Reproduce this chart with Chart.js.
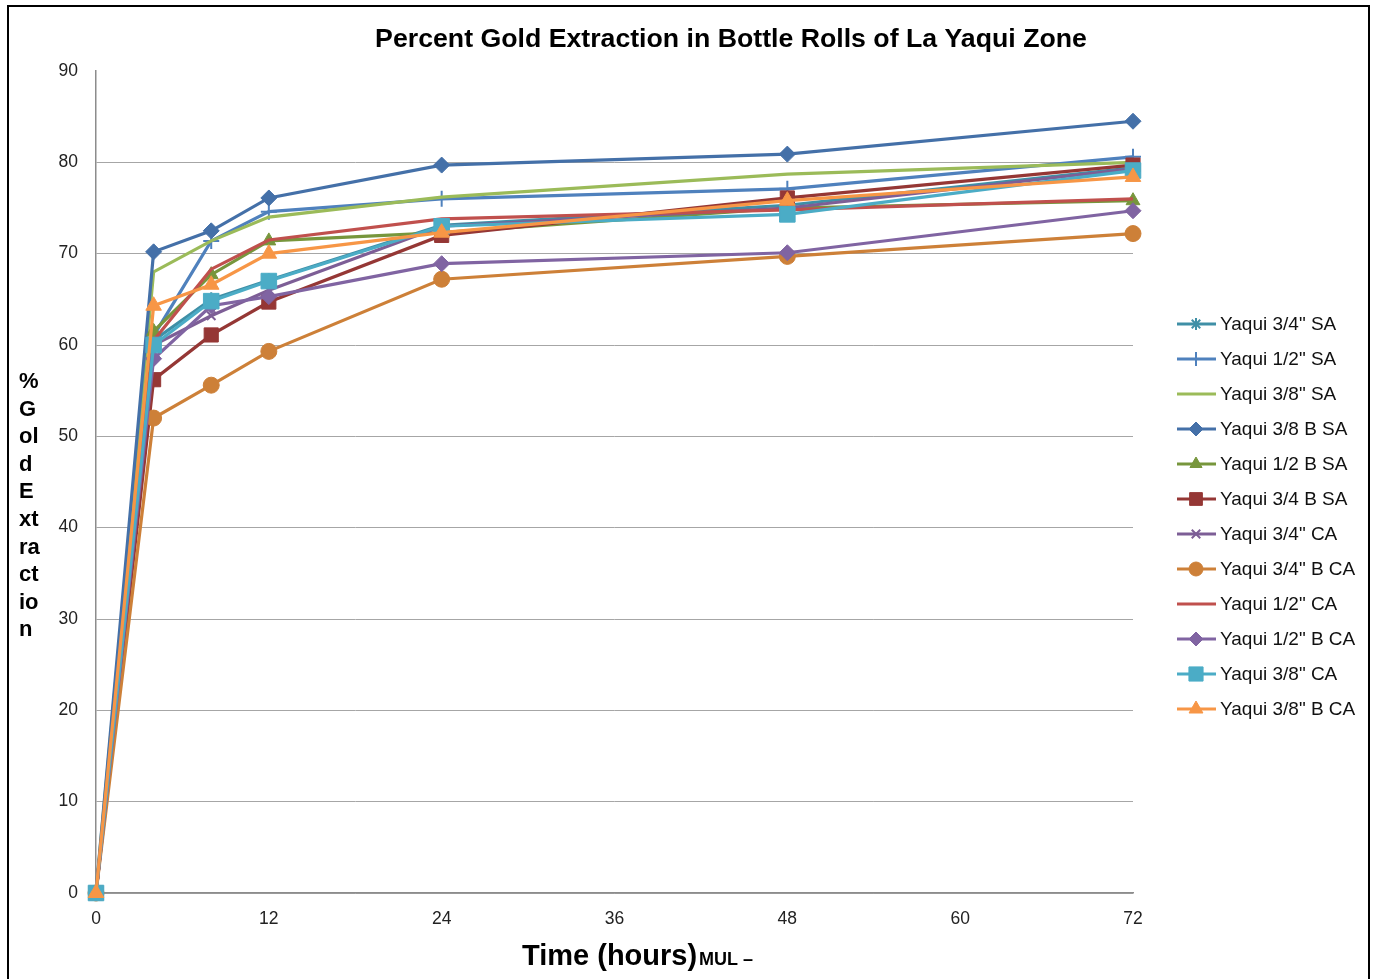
<!DOCTYPE html>
<html>
<head>
<meta charset="utf-8">
<script src="https://cdn.jsdelivr.net/npm/chart.js@4/dist/chart.umd.min.js"></script>
<style>
  html, body { margin: 0; padding: 0; background: #fff; }
  #wrap { position: relative; width: 1374px; height: 979px; }
  #frame { position: absolute; left: 7px; top: 5px; width: 1363px; height: 990px; border: 2px solid #000; box-sizing: border-box; pointer-events: none; }
  canvas { position: absolute; left: 0; top: 0; }
</style>
</head>
<body>
<div id="wrap">
  <canvas id="c" width="1374" height="979"></canvas>
  <div id="frame"></div>
</div>
<script>
const titleText = 'Percent Gold Extraction in Bottle Rolls of La Yaqui Zone';
const yTitleLines = ['%', 'G', 'ol', 'd', 'E', 'xt', 'ra', 'ct', 'io', 'n'];
const xTitleMain = 'Time (hours)';
const xTitleSuffix = 'MUL \u2013';

const hours = [0, 4, 8, 12, 24, 48, 72];
const xTicks = [0, 12, 24, 36, 48, 60, 72];
const yTicks = [0, 10, 20, 30, 40, 50, 60, 70, 80, 90];

const seriesNames = [
  'Yaqui 3/4" SA', 'Yaqui 1/2" SA', 'Yaqui 3/8" SA', 'Yaqui 3/8 B SA',
  'Yaqui 1/2 B SA', 'Yaqui 3/4 B SA', 'Yaqui 3/4" CA', 'Yaqui 3/4" B CA',
  'Yaqui 1/2" CA', 'Yaqui 1/2" B CA', 'Yaqui 3/8" CA', 'Yaqui 3/8" B CA'
];
const yaqui34SA   = [0, 60.5, 65.0, 67.1, 73.1, 75.3, 79.4];
const yaqui12SA   = [0, 61.0, 71.4, 74.6, 76.0, 77.1, 80.6];
const yaqui38SA   = [0, 68.0, 71.4, 74.0, 76.2, 78.7, 80.0];
const yaqui38BSA  = [0, 70.2, 72.5, 76.1, 79.7, 80.9, 84.5];
const yaqui12BSA  = [0, 61.5, 67.7, 71.4, 72.3, 75.0, 75.8];
const yaqui34BSA  = [0, 56.2, 61.1, 64.7, 72.0, 76.1, 79.7];
const yaqui34CA   = [0, 60.0, 63.2, 66.0, 73.0, 75.0, 79.3];
const yaqui34BCA  = [0, 52.0, 55.6, 59.3, 67.2, 69.7, 72.2];
const yaqui12CA   = [0, 60.5, 68.3, 71.5, 73.8, 74.8, 76.0];
const yaqui12BCA  = [0, 58.5, 64.3, 65.3, 68.9, 70.1, 74.7];
const yaqui38CA   = [0, 60.0, 64.8, 67.0, 73.0, 74.3, 79.1];
const yaqui38BCA  = [0, 64.3, 66.6, 70.0, 72.3, 75.8, 78.4];

const seriesValues = [yaqui34SA, yaqui12SA, yaqui38SA, yaqui38BSA, yaqui12BSA, yaqui34BSA,
  yaqui34CA, yaqui34BCA, yaqui12CA, yaqui12BCA, yaqui38CA, yaqui38BCA];
const seriesColors = ['#3F8FA6', '#4F81BD', '#9BBB59', '#4470A8', '#77963C', '#953735',
  '#7D5E96', '#CD8038', '#C0504D', '#8064A2', '#4BACC6', '#F79646'];
const seriesMarkers = ['star', 'cross', false, 'rectRot', 'triangle', 'rect',
  'crossRot', 'circle', false, 'rectRot', 'rect', 'triangle'];
const markerRadius = [7, 8, 0, 8, 8, 10, 6, 8, 0, 8, 11, 9];

const datasets = seriesNames.map((name, i) => ({
  label: name,
  data: hours.map((h, j) => ({ x: h, y: seriesValues[i][j] })),
  borderColor: seriesColors[i],
  backgroundColor: seriesColors[i],
  borderWidth: 3.2,
  pointStyle: seriesMarkers[i] || 'circle',
  pointRadius: markerRadius[i],
  pointHoverRadius: markerRadius[i],
  pointBorderWidth: (seriesMarkers[i] === 'star' || seriesMarkers[i] === 'cross' || seriesMarkers[i] === 'crossRot') ? 2 : 1,
  tension: 0,
  clip: false,
  order: seriesNames.length - 1 - i
}));

const FONT = '"Liberation Sans", Arial, sans-serif';

const decorPlugin = {
  id: 'decor',
  afterDraw(chart) {
    const ctx = chart.ctx;
    ctx.save();
    // Title
    ctx.fillStyle = '#000';
    ctx.font = 'bold 26.7px ' + FONT;
    ctx.textAlign = 'center';
    ctx.textBaseline = 'middle';
    ctx.fillText(titleText, 731, 40);
    // Y title stacked
    ctx.font = 'bold 22px ' + FONT;
    ctx.textAlign = 'left';
    yTitleLines.forEach((t, i) => ctx.fillText(t, 19, 382 + i * 27.6));
    // X title
    ctx.textBaseline = 'alphabetic';
    ctx.font = 'bold 29px ' + FONT;
    const w = ctx.measureText(xTitleMain).width;
    const x0 = 522;
    ctx.fillText(xTitleMain, x0, 965);
    ctx.font = 'bold 18px ' + FONT;
    ctx.fillText(xTitleSuffix, x0 + w + 2, 965);
    // Legend
    ctx.font = '19px ' + FONT;
    ctx.textBaseline = 'middle';
    chart.data.datasets.forEach((ds, i) => {
      const y = 324 + i * 35;
      ctx.strokeStyle = ds.borderColor;
      ctx.lineWidth = 3.2;
      ctx.beginPath();
      ctx.moveTo(1177, y);
      ctx.lineTo(1216, y);
      ctx.stroke();
      if (seriesMarkers[i] && Chart.helpers && Chart.helpers.drawPoint) {
        ctx.fillStyle = ds.backgroundColor;
        ctx.strokeStyle = ds.borderColor;
        ctx.lineWidth = ds.pointBorderWidth;
        Chart.helpers.drawPoint(ctx, {
          pointStyle: seriesMarkers[i],
          radius: Math.max(6, markerRadius[i] - 1),
          rotation: 0,
          borderWidth: ds.pointBorderWidth
        }, 1196, y);
      }
      ctx.fillStyle = '#111';
      ctx.fillText(ds.label, 1220, y + 1);
    });
    ctx.restore();
  }
};

new Chart(document.getElementById('c'), {
  type: 'line',
  data: { datasets },
  options: {
    responsive: false,
    animation: false,
    events: [],
    layout: { padding: { left: 0, right: 241, top: 71, bottom: 0 } },
    plugins: { legend: { display: false }, tooltip: { enabled: false }, title: { display: false } },
    scales: {
      x: {
        type: 'linear',
        min: 0, max: 72,
        afterBuildTicks(scale) { scale.ticks = xTicks.map(v => ({ value: v })); },
        afterFit(scale) { scale.height = 86; },
        grid: { display: false, drawTicks: false },
        border: { display: true, color: '#8C8C8C', width: 1.5 },
        ticks: { color: '#222', font: { family: FONT, size: 17.5 }, padding: 16, maxRotation: 0, autoSkip: false }
      },
      y: {
        min: 0, max: 90,
        afterBuildTicks(scale) { scale.ticks = yTicks.map(v => ({ value: v })); },
        afterFit(scale) { scale.width = 96; },
        grid: {
          color: ctx => (ctx.tick && ctx.tick.value === 90) ? 'rgba(0,0,0,0)' : '#A6A6A6',
          lineWidth: 1, drawTicks: false
        },
        border: { display: true, color: '#8C8C8C', width: 1.5 },
        ticks: { color: '#222', font: { family: FONT, size: 17.5 }, padding: 18 }
      }
    }
  },
  plugins: [decorPlugin]
});
</script>
</body>
</html>
